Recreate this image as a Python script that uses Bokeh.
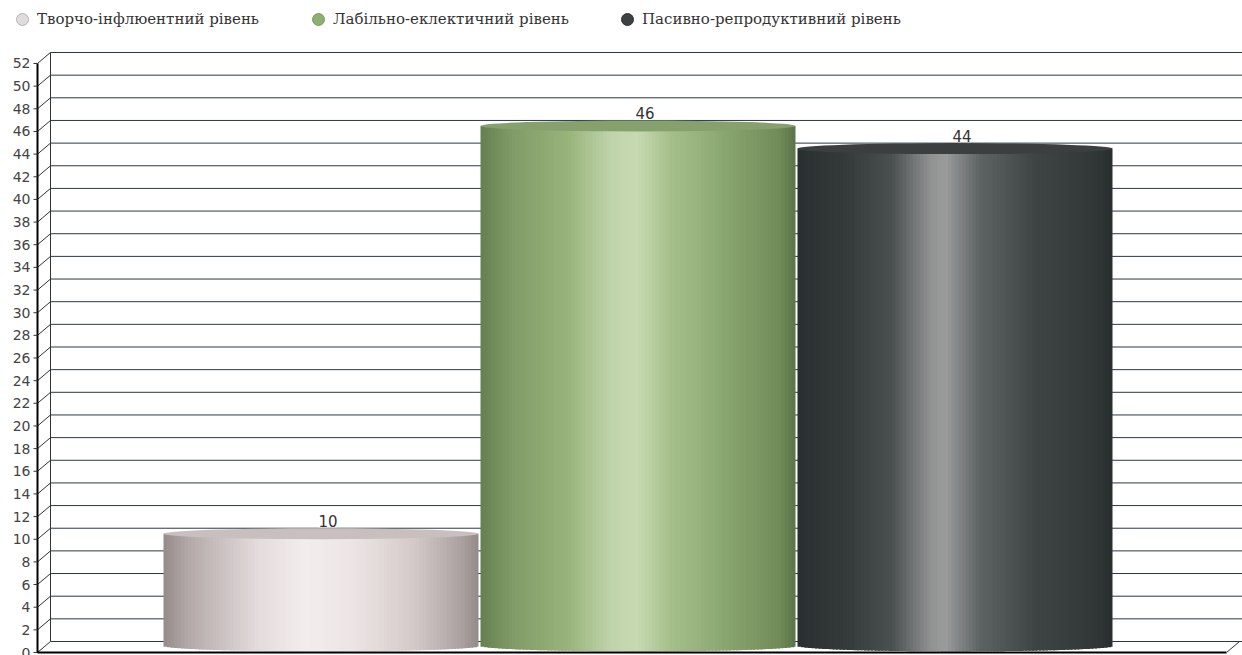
import numpy as np
from bokeh.plotting import figure
from bokeh.core.properties import value
from bokeh.models import (ColumnDataSource, Range1d, Legend, LegendItem,
                          LabelSet)
from bokeh.embed import file_html
from bokeh.resources import INLINE

# ---------------- data ----------------
categories = ["Творчо-інфлюентний рівень",
              "Лабільно-еклектичний рівень",
              "Пасивно-репродуктивний рівень"]
values = [10, 46, 44]
value_labels = ["10", "46", "44"]
y_ticks = list(range(0, 53, 2))
y_tick_labels = [str(t) for t in y_ticks]

# ---------------- styles ----------------
legend_colors = ["#dedcdc", "#8fae73", "#3c4141"]
legend_line = ["#b8b4b4", "#7d9a63", "#2e3232"]
top_colors = ["#c9bfbf", "#86a16e", "#3b3f3f"]
gradient_stops = [
    [(0.0, "#958b8b"), (0.08, "#b3a9a9"), (0.3, "#e4dcdc"), (0.45, "#f2eded"),
     (0.6, "#ede5e5"), (0.8, "#d3c9c9"), (0.95, "#a99f9f"), (1.0, "#948a8a")],
    [(0.0, "#667f50"), (0.1, "#809b67"), (0.28, "#98b47b"), (0.42, "#c1d5ad"),
     (0.5, "#c6d9b0"), (0.6, "#a6c08b"), (0.8, "#86a26c"), (0.95, "#708b58"),
     (1.0, "#5b744a")],
    [(0.0, "#2a2f2f"), (0.15, "#343939"), (0.3, "#4a4f4f"), (0.42, "#8f9191"),
     (0.47, "#9a9c9c"), (0.58, "#5d6262"), (0.75, "#3f4545"), (0.95, "#313636"),
     (1.0, "#282d2d")],
]

# ---------------- layout ----------------
W, H = 1242, 655
AXIS_PX = 37                 # front axis position (px from left)
YPX = 11.327                 # px per value unit
XPX = 317.0                  # px per category step
y_start = -3 / YPX
y_end = y_start + H / YPX
x_start = 1 - 320.5 / XPX
x_end = x_start + W / XPX
axis_x = x_start + AXIS_PX / XPX
DY = 11 / YPX                # depth offset (value units)
DX = 13 / XPX                # depth offset (category units)
TICK = 4 / XPX
BAR_W = 315 / XPX
floor_end = x_end - 16 / XPX

xpos = [1, 2, 3]

p = figure(width=W, height=H, output_backend="svg", toolbar_location=None,
           x_range=Range1d(x_start, x_end), y_range=Range1d(y_start, y_end),
           x_axis_location=None, y_axis_location=None,
           min_border_left=0, min_border_right=0, min_border_top=0,
           min_border_bottom=0)
p.outline_line_color = None
p.grid.visible = False
p.background_fill_color = "white"
p.border_fill_color = "white"

# back wall grid lines
gy = [t + DY for t in y_ticks]
n = len(y_ticks)
p.segment(x0=[axis_x + DX] * n, y0=gy, x1=[x_end] * n, y1=gy,
          line_color="#2a3846", line_width=1)
# connectors from front axis to back wall
p.segment(x0=[axis_x] * n, y0=y_ticks, x1=[axis_x + DX] * n, y1=gy,
          line_color="#333333", line_width=1)
# back wall left edge
p.segment(x0=[axis_x + DX], y0=[DY], x1=[axis_x + DX], y1=[y_ticks[-1] + DY],
          line_color="#333333", line_width=1)

# front value axis
p.segment(x0=[axis_x], y0=[y_ticks[0]], x1=[axis_x], y1=[y_ticks[-1]],
          line_color="black", line_width=2)
p.segment(x0=[axis_x - TICK] * n, y0=y_ticks, x1=[axis_x] * n, y1=y_ticks,
          line_color="#333333", line_width=1)
p.text(x=[axis_x] * n, y=y_ticks, text=y_tick_labels, x_offset=-7,
       text_align="right", text_baseline="middle",
       text_font=value("DejaVu Sans"), text_font_size=value("14px"),
       text_color="#444444")


def interp_colors(stops, t):
    pos = [s[0] for s in stops]
    rgb = np.array([[int(s[1][i:i + 2], 16) for i in (1, 3, 5)] for s in stops])
    out = []
    for tt in t:
        c = [int(round(np.interp(tt, pos, rgb[:, k]))) for k in range(3)]
        out.append("#%02x%02x%02x" % tuple(c))
    return out


N = 90
OVERLAP = 2.0 / XPX
semi = DY / 2
yb = DY * 0.6
for i, (c, v) in enumerate(zip(xpos, values)):
    edges = np.linspace(c - BAR_W / 2, c + BAR_W / 2, N + 1)
    mids = (edges[:-1] + edges[1:]) / 2
    u = (mids - c) / (BAR_W / 2)
    bottoms = yb - semi * np.sqrt(np.clip(1 - u ** 2, 0, 1))
    cols = interp_colors(gradient_stops[i], (u + 1) / 2)
    rights = np.minimum(edges[1:] + OVERLAP, c + BAR_W / 2)
    src = ColumnDataSource(dict(left=edges[:-1], right=rights,
                                bottom=bottoms, top=[v + DY / 2] * N,
                                color=cols))
    p.quad(left="left", right="right", bottom="bottom", top="top",
           fill_color="color", line_color=None, source=src)
    p.ellipse(x=[c], y=[v + DY / 2], width=BAR_W, height=DY,
              fill_color=top_colors[i], line_color=None)

# floor
p.segment(x0=[axis_x], y0=[0], x1=[floor_end], y1=[0],
          line_color="black", line_width=2)
p.segment(x0=[floor_end], y0=[0], x1=[floor_end + DX], y1=[DY],
          line_color="#333333", line_width=1)

# value labels
lsrc = ColumnDataSource(dict(x=xpos, y=[v + DY for v in values],
                             text=value_labels))
p.add_layout(LabelSet(x="x", y="y", text="text", source=lsrc, x_offset=7,
                      y_offset=1, text_align="center", text_baseline="bottom",
                      text_font=value("DejaVu Sans"),
                      text_font_size=value("15px"),
                      text_color="#333333", background_fill_color="white",
                      background_fill_alpha=1.0))

# legend (one Legend per entry, for exact placement)
legend_x = [7, 303, 612]
for i, name in enumerate(categories):
    r = p.scatter(x=[float("nan")], y=[float("nan")], marker="circle", size=12,
                  fill_color=legend_colors[i], line_color=legend_line[i])
    lg = Legend(items=[LegendItem(label=name, renderers=[r])],
                location=(legend_x[i], 621), orientation="horizontal",
                glyph_width=30, glyph_height=30, label_standoff=-2,
                padding=0, margin=0, border_line_alpha=0,
                background_fill_alpha=0,
                label_text_font="DejaVu Serif", label_text_font_size="15px",
                label_text_color="#333333")
    p.add_layout(lg)

open("out.html", "w").write(file_html(p, INLINE))
